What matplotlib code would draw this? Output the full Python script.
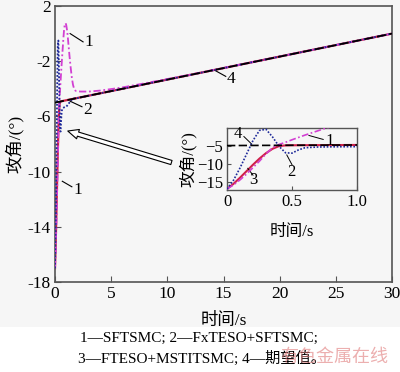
import matplotlib
matplotlib.use("Agg")
import matplotlib.pyplot as plt
from matplotlib.patches import Rectangle, FancyArrowPatch
from matplotlib.ticker import FuncFormatter

# ---------------- data ----------------
# curve 4: desired value
t_ref = [0, 30]
y_ref = [-5.0, 0.0]

# curve 3: FTESO+MSTITSMC (red solid)
t_c3 = [0, 0.05, 0.1, 0.15, 0.2, 0.25, 0.3, 0.35, 0.4, 0.45, 0.5, 0.7, 1.0, 30]
y_c3 = [-17.0, -15.6, -13.9, -12.1, -10.3, -8.6, -7.1, -5.9, -5.15, -4.95, -4.92, -4.88, -4.83, 0.0]

# curve 1: SFTSMC (magenta dash-dot)
t_c1 = [0, 0.05, 0.1, 0.15, 0.2, 0.25, 0.3, 0.35, 0.4, 0.45, 0.5, 0.55, 0.6, 0.65,
        0.7, 0.75, 0.8, 0.85, 0.9, 0.95, 1.0, 1.1, 1.2, 1.3, 1.4, 1.5, 1.6, 1.7,
        1.8, 1.9, 2.0, 2.3, 2.6, 3.0, 4.0, 5.0, 6.0, 8.0, 10.0, 12.0, 15.0, 20.0, 30.0]
y_c1 = [-17.0, -15.9, -14.5, -12.9, -11.1, -9.3, -7.3, -5.6, -4.7, -4.1, -3.4, -2.75,
        -2.1, -1.5, -0.9, -0.3, 0.2, 0.55, 0.72, 0.75, 0.62, 0.1, -0.8, -1.7, -2.5,
        -3.2, -3.7, -4.0, -4.12, -4.17, -4.18, -4.2, -4.2, -4.2, -4.13, -4.02,
        -3.9, -3.6, -3.29, -2.98, -2.49, -1.66, 0.0]

# curve 2: FxTESO+SFTSMC (blue dotted)
t_c2 = [0, 0.05, 0.1, 0.15, 0.2, 0.25, 0.3, 0.35, 0.4, 0.45, 0.5, 0.55, 0.6, 0.7,
        0.8, 0.9, 1.0, 1.2, 1.4, 1.6, 1.8, 2.0, 3.0, 30]
y_c2 = [-17.0, -14.6, -11.2, -7.4, -3.6, -0.8, -0.5, -2.6, -5.2, -7.0, -7.1, -6.2,
        -5.6, -5.4, -5.35, -5.32, -5.3, -5.1, -4.85, -4.7, -4.7, -4.67, -4.5, 0.0]

main_xticks = [0, 5, 10, 15, 20, 25, 30]
main_yticks = [2, -2, -6, -10, -14, -18]
inset_xticks = [0, 0.5, 1.0]
inset_xticklabels = ["0", "0.5", "1.0"]
inset_yticks = [-5, -10, -15]

caption1 = "1—SFTSMC; 2—FxTESO+SFTSMC;"
caption2 = "3—FTESO+MSTITSMC; 4—期望值。"

# ---------------- style ----------------
FAM = ["Liberation Serif", "Noto Sans CJK SC"]
plt.rcParams["font.family"] = FAM
plt.rcParams["axes.unicode_minus"] = True

BG = "#f6f6f6"
C1 = "#d23fd2"
C2 = "#1f2a9a"
C3 = "#d0204a"
C4 = "black"
SP = "#555555"

fig = plt.figure(figsize=(4.0, 3.72), dpi=100, facecolor="white")
fig.patches.append(Rectangle((0, 1 - 327 / 372), 1, 327 / 372, transform=fig.transFigure,
                             facecolor=BG, edgecolor="none", zorder=-10))

ax = fig.add_axes([55 / 400, 1 - 282 / 372, 337 / 400, 276 / 372])
ax.set_facecolor(BG)

def draw(a, lw=1.3):
    a.plot(t_c1, y_c1, color=C1, lw=lw, ls=(0, (4, 1.5, 1, 1.5)), zorder=3)
    a.plot(t_c2, y_c2, color=C2, lw=lw, ls=(0, (1, 1)), zorder=4)
    a.plot(t_c3, y_c3, color=C3, lw=lw + 0.3, ls="-", zorder=2)
    a.plot(t_ref, y_ref, color=C4, lw=lw, ls=(0, (5, 2)), zorder=5)

draw(ax)
ax.set_xlim(0, 30)
ax.set_ylim(-18, 2)
ax.set_xticks(main_xticks)
ax.set_yticks(main_yticks)
ax.yaxis.set_major_formatter(FuncFormatter(lambda v, p: ("%d" % v).replace("−", "-")))
ax.tick_params(direction="in", length=4, width=0.8, colors=SP, labelcolor="black",
               labelsize=12.5, pad=3)
for s in ax.spines.values():
    s.set_color(SP)
    s.set_linewidth(1.2)
ax.set_xlabel("时间/s", fontsize=12.5, labelpad=8)
ax.set_ylabel("攻角/(°)", fontsize=12.5, labelpad=3)

# main annotations
ax.plot([1.35, 2.5], [0.0, -0.6], color="black", lw=0.8)
ax.text(2.6, -0.6, "1", fontsize=12.5, va="center", ha="left")
ax.plot([1.35, 2.4], [-4.9, -5.3], color="black", lw=0.8)
ax.text(2.5, -5.5, "2", fontsize=12.5, va="center", ha="left")
ax.plot([0.65, 1.5], [-10.7, -11.1], color="black", lw=0.8)
ax.text(1.6, -11.3, "1", fontsize=12.5, va="center", ha="left")
ax.plot([14.2, 15.2], [-2.65, -3.1], color="black", lw=0.8)
ax.text(15.3, -3.3, "4", fontsize=12.5, va="center", ha="left")

arr = FancyArrowPatch((10.6, -9.4), (0.9, -7.0),
                      arrowstyle="simple,head_length=0.55,head_width=0.5,tail_width=0.22",
                      mutation_scale=14, facecolor="white", edgecolor="black", lw=0.8, zorder=6)
ax.add_patch(arr)

# inset
ins = fig.add_axes([227 / 400, 1 - 190 / 372, 130 / 400, 62.5 / 372])
ins.set_facecolor(BG)
draw(ins, lw=1.2)
ins.set_xlim(0, 1.0)
ins.set_ylim(-17.3, 0.0)
ins.set_xticks(inset_xticks)
ins.set_xticklabels(inset_xticklabels)
ins.set_yticks(inset_yticks)
ins.tick_params(direction="in", length=3, width=0.8, colors=SP, labelcolor="black",
                labelsize=12, pad=3)
for s in ins.spines.values():
    s.set_color(SP)
    s.set_linewidth(1.0)
ins.set_xlabel("时间/s", fontsize=12, labelpad=10)
ins.set_ylabel("攻角/(°)", fontsize=12, labelpad=0)

ins.plot([0.13, 0.19], [-2.5, -4.6], color="black", lw=0.7)
ins.text(0.05, -1.9, "4", fontsize=12, va="center", ha="left")
ins.plot([0.63, 0.74], [-2.2, -3.3], color="black", lw=0.7)
ins.text(0.76, -3.8, "1", fontsize=12, va="center", ha="left")
ins.plot([0.46, 0.5], [-7.6, -10.3], color="black", lw=0.7)
ins.text(0.46, -12.3, "2", fontsize=12, va="center", ha="left")
ins.plot([0.16, 0.2], [-11.3, -13.2], color="black", lw=0.7)
ins.text(0.17, -14.6, "3", fontsize=12, va="center", ha="left")

# caption
fig.text(80 / 400, 1 - 338 / 372, caption1, fontsize=11, ha="left", va="center")
fig.text(78 / 400, 1 - 358 / 372, caption2, fontsize=11, ha="left", va="center")
fig.text(280 / 400, 1 - 357 / 372, "有色金属在线", fontsize=13, ha="left", va="center",
         color="#e07a7a", alpha=0.6, family=["Noto Sans CJK SC"])

fig.savefig("out.png", dpi=100, facecolor=fig.get_facecolor())
